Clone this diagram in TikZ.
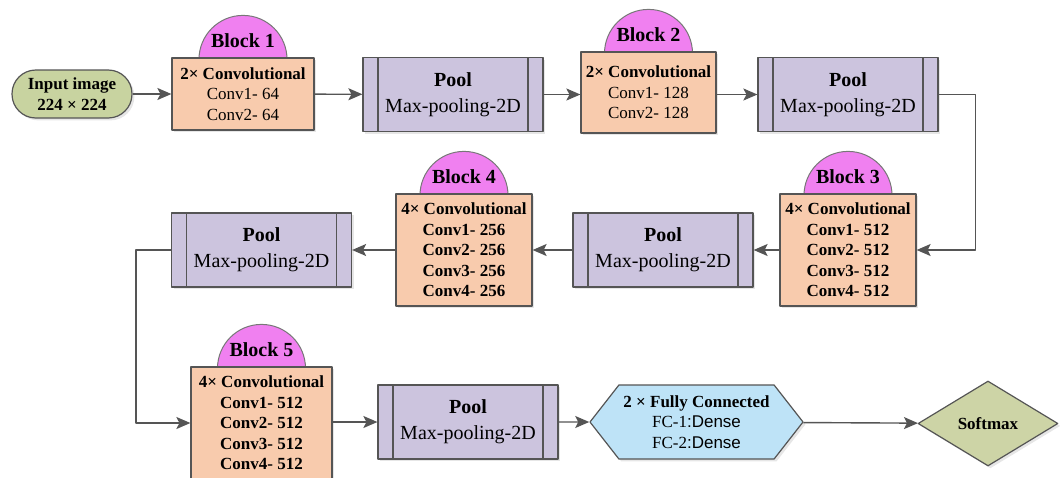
\documentclass[tikz,border=0pt]{standalone}
\usepackage{fontspec}
\setmainfont{Liberation Serif}
\setsansfont{Liberation Sans}
\usetikzlibrary{arrows.meta,shapes.geometric,shapes.symbols,shadows,backgrounds}

\definecolor{convfill}{HTML}{F8CBAD}
\definecolor{domefill}{HTML}{F080F0}
\definecolor{poolfill}{HTML}{CCC4DE}
\definecolor{inputfill}{HTML}{C8D3A0}
\definecolor{fcfill}{HTML}{BEE3F7}
\definecolor{smfill}{HTML}{CDD4A6}
\definecolor{edge}{HTML}{555555}

\tikzset{
  shade/.style={drop shadow={shadow xshift=1.2pt,shadow yshift=-1.2pt,opacity=0.2}},
  conv/.style={draw=edge,line width=0.6pt,fill=convfill,shade,minimum width=68pt,minimum height=56pt,
    align=center,inner sep=1pt,font=\fontsize{8.5}{10.25}\selectfont},
  pool/.style={draw=edge,line width=0.6pt,fill=poolfill,shade,minimum width=90pt,minimum height=37pt,
    align=center,font=\fontsize{10}{13}\selectfont,
    path picture={\draw[edge,line width=0.6pt]
      ([xshift=7.5pt]path picture bounding box.north west) -- ([xshift=7.5pt]path picture bounding box.south west)
      ([xshift=-7.5pt]path picture bounding box.north east) -- ([xshift=-7.5pt]path picture bounding box.south east);}},
  dome/.style={draw=edge!80,line width=0.5pt,fill=domefill},
  domelbl/.style={font=\bfseries\fontsize{10}{12}\selectfont,inner sep=0pt},
  link/.style={draw=edge,line width=0.7pt,-{Stealth[length=7pt,width=6pt,inset=1.5pt]}},
}

\begin{document}
\begin{tikzpicture}[x=0.5pt,y=-0.5pt,line join=round]
\useasboundingbox (0,0) rectangle (1060,477);
% first row
\node[draw=edge,line width=0.6pt,fill=inputfill,shade,rounded corners=11.9pt,minimum width=60pt,minimum height=24pt,
  align=center,font=\bfseries\fontsize{8.5}{10.25}\selectfont] (in) at (72,94) {Input image\\224 × 224};
\node[conv,minimum width=71pt,minimum height=36pt] (b1) at (243,94)
  {\textbf{2× Convolutional}\\Conv1- 64\\Conv2- 64};
\node[pool] (p1) at (453,94.5) {\textbf{Pool}\\Max-pooling-2D};
\node[conv,minimum width=67.5pt,minimum height=40.5pt] (b2) at (648.5,92.5)
  {\textbf{2× Convolutional}\\Conv1- 128\\Conv2- 128};
\node[pool] (p2) at (848,94.5) {\textbf{Pool}\\Max-pooling-2D};
% second row
\node[conv,font=\bfseries\fontsize{8.5}{10.25}\selectfont] (b3) at (848,250)
  {4× Convolutional\\Conv1- 512\\Conv2- 512\\Conv3- 512\\Conv4- 512};
\node[pool] (p3) at (663,250) {\textbf{Pool}\\Max-pooling-2D};
\node[conv,font=\bfseries\fontsize{8.5}{10.25}\selectfont] (b4) at (464,250)
  {4× Convolutional\\Conv1- 256\\Conv2- 256\\Conv3- 256\\Conv4- 256};
\node[pool] (p4) at (261.5,250) {\textbf{Pool}\\Max-pooling-2D};
% third row
\node[conv,minimum width=70.5pt,font=\bfseries\fontsize{8.5}{10.25}\selectfont] (b5) at (261.5,423)
  {4× Convolutional\\Conv1- 512\\Conv2- 512\\Conv3- 512\\Conv4- 512};
\node[pool] (p5) at (468,422) {\textbf{Pool}\\Max-pooling-2D};
\node[draw=edge,line width=0.6pt,fill=fcfill,shade,shape=signal,signal to=west and east,signal pointer angle=104,
  minimum width=106.5pt,minimum height=37pt,inner sep=1pt,align=center,font=\fontsize{8.5}{10.25}\selectfont] (fc) at (696.5,422)
  {\textbf{2 × Fully Connected}\\FC-1{\sffamily :Dense}\\FC-2{\sffamily :Dense}};
\node[draw=edge,line width=0.6pt,fill=smfill,shade,diamond,minimum width=70pt,minimum height=42.5pt,inner sep=0pt,
  font=\bfseries\fontsize{8.5}{10.25}\selectfont] (sm) at (988,423.5) {Softmax};

% block domes
\begin{pgfonlayer}{background}
\foreach \blk/\txt in {b1/Block 1,b2/Block 2,b3/Block 3,b4/Block 4,b5/Block 5}{
  \draw[dome] ([xshift=22pt,yshift=-1pt]\blk.north) arc[start angle=0,end angle=180,radius=22pt] -- cycle;
  \node[domelbl] (\blk lbl) at ([yshift=8.5pt]\blk.north) {\txt};
}
\end{pgfonlayer}

% connectors
\draw[link] (in) -- (b1);
\draw[link] (b1) -- (p1);
\draw[link] (p1) -- (b2.west |- p1.east);
\draw[link] (b2.east |- p2.west) -- (p2);
\draw[link] (p2.east) -- ++(37,0) |- (b3.east);
\draw[link] (b3) -- (p3);
\draw[link] (p3) -- (b4);
\draw[link] (b4) -- (p4);
\draw[link] (p4.west) -- ++(-35,0) |- (b5.west);
\draw[link] (b5.east |- p5.west) -- (p5);
\draw[link] (p5) -- (fc);
\draw[link] (fc) -- (sm);
\end{tikzpicture}
\end{document}
